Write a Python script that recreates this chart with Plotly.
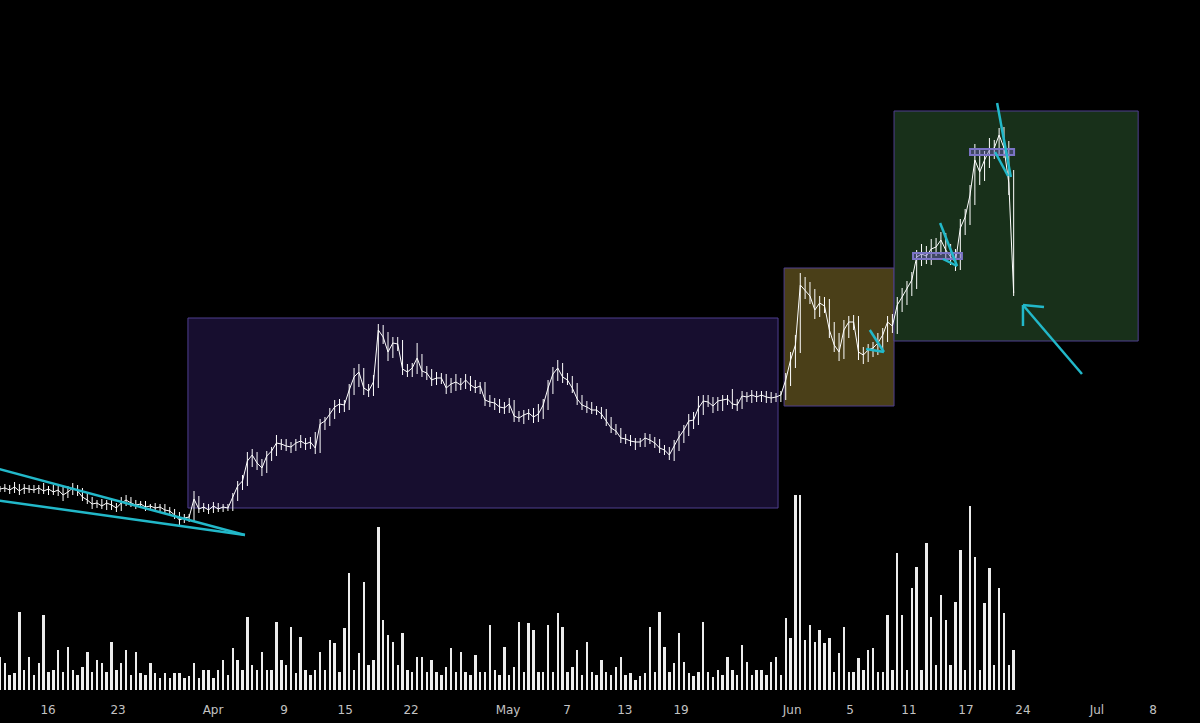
import pandas as pd
import plotly.graph_objects as go

# ---------------- data ----------------
start = "2018-03-11 00:00"
price = [
    20.1, 20.2, 20.0, 20.3, 19.9, 20.2, 20.1, 20.0, 20.2, 19.9,
    20.1, 19.8, 20.0, 19.5, 19.8, 20.2, 19.9, 19.3, 19.0, 18.6,
    18.7, 18.4, 18.7, 18.5, 18.2, 18.7, 19.0, 18.7, 18.5, 18.6,
    18.3, 18.4, 18.2, 18.3, 18.0, 17.9, 17.5, 17.0, 17.2, 17.3,
    19.1, 18.1, 18.3, 18.0, 18.4, 18.1, 18.3, 18.2, 19.3, 20.4,
    20.9, 22.9, 23.5, 22.7, 22.2, 23.4, 23.9, 24.7, 24.6, 24.4,
    24.3, 24.7, 24.9, 24.6, 24.8, 24.2, 26.6, 26.9, 27.6, 28.3,
    28.6, 28.5, 30.0, 31.3, 31.8, 30.2, 29.9, 30.8, 36.0, 35.3,
    33.8, 34.7, 34.6, 32.1, 31.8, 32.2, 33.2, 31.9, 31.7, 31.0,
    31.2, 31.2, 30.2, 30.6, 30.8, 30.5, 31.0, 30.5, 30.2, 30.4,
    29.0, 28.8, 28.7, 28.3, 28.2, 28.6, 27.4, 27.2, 27.5, 27.7,
    27.3, 27.6, 28.5, 30.2, 31.6, 32.2, 31.3, 31.0, 30.2, 29.1,
    28.5, 28.3, 28.0, 28.0, 27.6, 26.9, 26.2, 25.9, 25.2, 25.1,
    24.9, 24.8, 24.8, 25.2, 25.0, 24.7, 24.2, 24.0, 23.5, 24.4,
    25.3, 26.0, 26.9, 27.0, 28.2, 28.9, 28.8, 28.4, 28.9, 29.0,
    29.1, 28.6, 28.5, 29.4, 29.3, 29.5, 29.3, 29.5, 29.3, 29.2,
    29.3, 29.5, 31.0, 33.0, 34.5, 40.5, 40.0, 39.4, 38.0, 38.7,
    38.4, 36.0, 34.5, 33.8, 36.0, 36.8, 36.8, 33.8, 33.5, 34.0,
    34.2, 34.7, 35.5, 36.8, 36.4, 38.5, 39.3, 40.2, 41.0, 43.3,
    43.6, 43.4, 44.1, 44.3, 45.0, 44.0, 43.3, 42.8, 46.2, 47.3,
    49.5, 53.0, 51.8, 53.0, 54.0, 54.2, 55.5, 54.2, 50.7, 39.7,
]
# upper / lower wick extents beyond the bar body
wick_up = [
    0.3, 0.4, 0.3, 0.5, 0.3, 0.4, 0.3, 0.4, 0.3, 0.5,
    0.3, 0.4, 0.4, 0.3, 0.6, 0.5, 0.3, 0.3, 0.4, 0.3,
    0.3, 0.4, 0.3, 0.3, 0.2, 0.6, 0.5, 0.3, 0.3, 0.3,
    0.3, 0.2, 0.3, 0.3, 0.3, 0.3, 0.2, 0.3, 0.4, 0.3,
    0.8, 0.3, 0.4, 0.3, 0.4, 0.3, 0.3, 0.3, 0.4, 0.5,
    0.6, 0.9, 0.6, 0.3, 0.4, 0.5, 0.4, 0.8, 0.4, 0.5,
    0.4, 0.4, 0.6, 0.3, 0.5, 1.0, 0.5, 0.4, 0.6, 0.7,
    0.5, 0.4, 0.6, 0.9, 0.8, 0.4, 0.4, 0.7, 0.6, 0.5,
    0.5, 0.6, 0.6, 0.4, 0.5, 0.5, 1.5, 0.4, 0.5, 0.4,
    0.6, 0.5, 0.4, 0.6, 0.8, 0.4, 0.6, 0.4, 0.5, 0.4,
    0.4, 0.5, 0.4, 0.4, 0.5, 0.6, 0.4, 0.5, 0.5, 0.4,
    0.5, 1.0, 0.6, 0.8, 0.7, 0.8, 0.5, 0.4, 0.4, 0.5,
    0.4, 0.4, 0.5, 0.4, 0.3, 0.5, 0.4, 0.4, 0.3, 0.4,
    0.4, 0.3, 0.4, 0.5, 0.4, 0.3, 0.4, 0.3, 0.3, 0.6,
    0.6, 0.5, 0.7, 0.8, 1.2, 0.6, 0.6, 0.5, 0.4, 0.5,
    0.4, 1.0, 0.5, 0.5, 0.4, 0.5, 0.4, 0.4, 0.4, 0.5,
    0.4, 0.4, 0.7, 0.8, 1.0, 1.2, 0.8, 0.8, 0.7, 0.7,
    0.6, 0.7, 0.8, 1.2, 1.0, 0.6, 0.7, 0.6, 0.5, 0.6,
    0.6, 1.0, 0.7, 0.6, 0.8, 0.8, 0.9, 0.7, 0.8, 0.7,
    1.0, 0.8, 1.0, 0.9, 0.8, 0.7, 0.6, 0.8, 0.9, 0.8,
    1.0, 1.6, 1.0, 0.9, 1.2, 0.8, 0.7, 0.8, 0.7, 1.3,
]
wick_down = [
    0.3, 0.3, 0.4, 0.3, 0.4, 0.3, 0.4, 0.3, 0.4, 0.3,
    0.4, 0.3, 0.4, 0.6, 0.3, 0.3, 0.5, 0.4, 0.4, 0.5,
    0.4, 0.3, 0.4, 0.5, 0.4, 0.3, 0.3, 0.4, 0.4, 0.3,
    0.4, 0.3, 0.3, 0.4, 0.3, 0.4, 0.4, 0.5, 0.3, 0.4,
    0.4, 0.4, 0.3, 0.4, 0.3, 0.3, 0.3, 0.3, 0.3, 0.4,
    0.4, 0.5, 0.6, 0.7, 0.8, 0.5, 0.5, 0.5, 0.6, 0.5,
    0.6, 0.4, 0.5, 0.6, 0.5, 0.6, 0.5, 0.6, 0.5, 0.5,
    0.6, 0.7, 0.5, 0.5, 1.0, 0.7, 0.6, 0.5, 0.6, 0.7,
    0.9, 0.6, 0.7, 0.6, 0.5, 0.5, 0.6, 0.6, 0.7, 0.6,
    0.5, 0.6, 0.6, 0.5, 0.7, 0.5, 0.4, 0.6, 0.5, 0.6,
    0.6, 0.5, 0.7, 0.6, 0.6, 0.5, 0.6, 0.4, 0.6, 0.5,
    0.6, 0.5, 0.5, 0.5, 0.6, 0.7, 0.6, 0.5, 0.5, 0.6,
    0.5, 0.6, 0.4, 0.5, 0.5, 0.5, 0.5, 0.4, 0.5, 0.5,
    0.5, 0.8, 0.5, 0.5, 0.4, 0.5, 0.5, 0.5, 0.5, 0.6,
    0.5, 0.6, 0.6, 0.8, 0.5, 0.7, 0.5, 0.7, 0.5, 1.0,
    0.5, 0.5, 0.6, 0.4, 0.5, 0.6, 0.5, 0.5, 0.6, 0.5,
    0.4, 0.5, 0.5, 0.6, 0.8, 0.8, 0.9, 0.8, 0.9, 0.7,
    0.7, 0.8, 0.7, 0.9, 0.7, 0.8, 0.8, 0.8, 0.9, 0.7,
    0.7, 0.7, 0.6, 0.7, 0.7, 0.8, 0.7, 0.8, 0.8, 0.9,
    0.9, 0.8, 0.9, 0.7, 0.8, 0.9, 0.8, 0.9, 0.8, 0.7,
    0.8, 1.0, 1.3, 0.9, 0.8, 0.9, 0.8, 1.0, 1.2, 0.3,
]
volume = [
    33, 27, 15, 17, 78, 20, 33, 15, 27, 75,
    18, 20, 40, 18, 43, 20, 15, 23, 38, 18,
    30, 27, 18, 48, 20, 27, 40, 15, 38, 17,
    15, 27, 17, 12, 17, 12, 17, 17, 12, 14,
    27, 12, 20, 20, 12, 20, 30, 15, 42, 30,
    20, 73, 25, 20, 38, 20, 20, 68, 30, 25,
    63, 17, 53, 20, 15, 20, 38, 20, 50, 47,
    18, 62, 117, 20, 37, 108, 25, 30, 163, 70,
    55, 48, 25, 57, 20, 18, 33, 33, 18, 30,
    18, 15, 23, 42, 18, 38, 18, 15, 35, 18,
    18, 65, 20, 15, 43, 15, 23, 68, 18, 67,
    60, 18, 18, 65, 18, 77, 63, 18, 23, 40,
    15, 48, 18, 15, 30, 18, 15, 23, 33, 15,
    17, 10, 14, 17, 63, 18, 78, 43, 18, 27,
    57, 28, 17, 14, 18, 68, 18, 13, 20, 15,
    33, 20, 15, 45, 28, 15, 20, 20, 15, 28,
    33, 15, 72, 52, 195, 195, 50, 65, 48, 60,
    47, 52, 18, 37, 63, 18, 18, 32, 20, 40,
    42, 18, 18, 75, 20, 137, 75, 20, 102, 123,
    20, 147, 73, 25, 95, 70, 25, 88, 140, 20,
    184, 133, 20, 87, 122, 25, 102, 77, 25, 40,
]
tick_dates = ["2018-03-15 23:00", "2018-03-23 04:00", "2018-04-01 23:00", "2018-04-09 07:00",
              "2018-04-15 14:00", "2018-04-22 09:00", "2018-05-02 09:00", "2018-05-08 11:00",
              "2018-05-14 10:00", "2018-05-20 05:00", "2018-05-31 16:00", "2018-06-06 15:00",
              "2018-06-12 17:00", "2018-06-18 14:00", "2018-06-24 11:00", "2018-07-02 02:00",
              "2018-07-07 21:00"]
tick_text = ["16", "23", "Apr", "9", "15", "22", "May", "7", "13", "19",
             "Jun", "5", "11", "17", "24", "Jul", "8"]

# zones: (start, end, low, high, fill)
zones = [
    ("2018-03-30 09:00", "2018-05-30 05:00", 18.2, 37.2, "#170e2f"),
    ("2018-05-30 20:00", "2018-06-11 04:00", 28.4, 42.2, "#4a3f18"),
    ("2018-06-11 04:00", "2018-07-06 08:00", 34.9, 57.9, "#18301a"),
]
# level boxes
levels = [
    ("2018-06-13 03:00", "2018-06-18 04:00", 43.1, 43.7),
    ("2018-06-19 00:00", "2018-06-23 13:00", 53.5, 54.1),
]
# trend / drawing lines: (x0, y0, x1, y1)
draw_lines = [
    ("2018-03-10 12:00", 22.2, "2018-04-05 06:00", 15.5),
    ("2018-03-10 12:00", 19.0, "2018-04-05 06:00", 15.5),
    ("2018-06-08 16:00", 36.0, "2018-06-10 03:00", 33.8),
    ("2018-06-08 07:00", 34.1, "2018-06-10 03:00", 33.8),
    ("2018-06-15 22:00", 46.7, "2018-06-17 16:00", 42.4),
    ("2018-06-16 05:00", 43.1, "2018-06-17 16:00", 42.4),
    ("2018-06-21 19:00", 58.7, "2018-06-23 05:00", 51.3),
    ("2018-06-21 14:00", 53.8, "2018-06-22 22:00", 51.4),
    ("2018-06-30 13:00", 31.6, "2018-06-24 11:00", 38.5),
    ("2018-06-24 11:00", 38.5, "2018-06-26 15:00", 38.3),
    ("2018-06-24 11:00", 38.5, "2018-06-24 11:00", 36.4),
]

# ---------------- figure ----------------
dates = pd.date_range(start, periods=len(price), freq="12h")
opens = [price[0]] + price[:-1]
highs = [max(o, c) + u for o, c, u in zip(opens, price, wick_up)]
lows = [min(o, c) - d for o, c, d in zip(opens, price, wick_down)]

fig = go.Figure()
fig.add_trace(go.Bar(
    x=dates, y=volume, yaxis="y2",
    marker=dict(color="#ececec", line=dict(width=0)),
    width=12 * 3600 * 1000 * 0.5,
    hoverinfo="skip", showlegend=False,
))
fig.add_trace(go.Ohlc(
    x=dates, open=opens, high=highs, low=lows, close=price,
    increasing=dict(line=dict(color="#ffffff", width=1)),
    decreasing=dict(line=dict(color="#ffffff", width=1)),
    tickwidth=0, hoverinfo="skip", showlegend=False,
))
fig.add_trace(go.Scatter(
    x=dates, y=price, mode="lines",
    line=dict(color="#ffffff", width=1),
    hoverinfo="skip", showlegend=False,
))

shapes = []
for x0, x1, lo, hi, fill in zones:
    shapes.append(dict(type="rect", xref="x", yref="y", x0=x0, x1=x1, y0=lo, y1=hi,
                       fillcolor=fill, line=dict(color="#4f3f8f", width=1), layer="below"))
for x0, x1, lo, hi in levels:
    shapes.append(dict(type="rect", xref="x", yref="y", x0=x0, x1=x1, y0=lo, y1=hi,
                       fillcolor="rgba(110,100,190,0.45)", line=dict(color="#7b74c6", width=2),
                       layer="above"))
for x0, y0, x1, y1 in draw_lines:
    shapes.append(dict(type="line", xref="x", yref="y", x0=x0, y0=y0, x1=x1, y1=y1,
                       line=dict(color="#22b8c9", width=2.5), layer="above"))

fig.update_layout(
    width=1200, height=723,
    margin=dict(l=0, r=0, t=0, b=33),
    paper_bgcolor="#000000", plot_bgcolor="#000000",
    shapes=shapes,
    bargap=0,
    xaxis=dict(
        type="date",
        range=["2018-03-11 00:00", "2018-07-12 17:00"],
        rangeslider=dict(visible=False),
        tickmode="array", tickvals=tick_dates, ticktext=tick_text,
        ticks="outside", ticklen=9, tickcolor="rgba(0,0,0,0)",
        tickfont=dict(family="DejaVu Sans", size=12, color="#c3c3c3"),
        showgrid=False, zeroline=False, showline=False, fixedrange=True,
    ),
    yaxis=dict(range=[0, 69], visible=False, showgrid=False, fixedrange=True),
    yaxis2=dict(range=[0, 690], overlaying="y", visible=False, showgrid=False, fixedrange=True),
)

fig.write_html("out.html")
